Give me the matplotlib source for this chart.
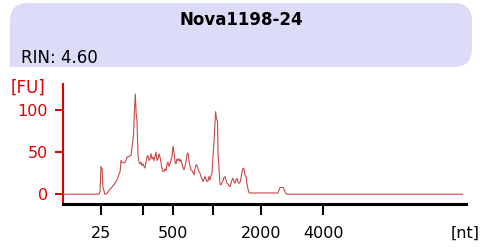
import matplotlib
matplotlib.use('Agg')
import matplotlib.pyplot as plt
from matplotlib.patches import FancyBboxPatch, Rectangle
import numpy as np

# electropherogram trace: migration position (axis units) and fluorescence [FU]
pos = [63, 99, 100, 101, 102, 103, 105, 107, 110, 113, 115, 117, 119, 120, 121, 122,
       124, 125, 126, 127, 129, 131, 132.5, 133.5, 134.5, 135.3, 136.2, 137, 138, 139,
       140, 141, 142, 143, 144, 145, 146, 147, 148, 149, 150, 151, 152, 153, 154, 155,
       156, 157, 158, 159, 160, 161, 162, 163, 164, 165, 166, 167, 168, 169, 170, 171,
       172, 173, 174, 175, 176, 177, 178, 179, 180, 181, 182, 183, 184, 185, 186, 187,
       188, 189, 190, 191, 192, 193, 194, 195, 196, 197, 198, 199, 200, 201, 202, 203,
       204, 205, 206, 207, 208, 209, 210, 211, 212, 213, 214, 215, 215.6, 216.5, 217.5,
       218, 219, 220, 221, 222, 223, 224, 225, 226, 227, 228, 229, 230, 231, 232, 233,
       234, 235, 236, 237, 238, 239, 240, 241, 242, 243, 244, 245, 246, 247, 248, 249,
       250, 278, 279, 280, 282, 283, 284, 285, 286, 287, 462.7]
fu = [0, 0, 3, 33, 30, 8, 0, 1, 6, 10, 13, 17, 24, 26, 40, 38,
      37, 38, 40, 44, 45, 46, 60, 70, 100, 119, 95, 88, 45, 38,
      36, 38, 34, 36, 33, 31, 38, 44, 46, 40, 42, 48, 42, 44, 40, 45,
      50, 40, 42, 48, 44, 38, 30, 27, 27, 30, 28, 36, 38, 33, 36, 40,
      45, 57, 50, 38, 36, 42, 40, 42, 39, 41, 36, 32, 29, 33, 38, 47,
      49, 40, 33, 29, 28, 26, 23, 30, 35, 34, 30, 27, 25, 21, 18, 15,
      18, 21, 18, 15, 16, 21, 17, 22, 25, 45, 62, 85, 98, 90, 86,
      50, 32, 12, 11, 14, 16, 20, 21, 17, 13, 12, 10, 9, 13, 17, 19,
      15, 13, 17, 19, 14, 13, 14, 19, 27, 31, 30, 23, 21, 12, 6, 2,
      1.5, 1.5, 5, 8, 8, 8, 6, 3, 1, 0, 0]

tick_pos = [101, 143.3, 172.7, 213.3, 261, 323.3]
tick_labels = ['25', '', '500', '', '2000', '4000']
y_ticks = [0, 50, 100]

title = 'Nova1198-24'
rin_text = 'RIN: 4.60'

W, H = 494, 248
fig = plt.figure(figsize=(W / 100, H / 100), dpi=100)

# background layer in pixel coords for the header box and labels
bg = fig.add_axes([0, 0, 1, 1])
bg.set_xlim(0, W)
bg.set_ylim(H, 0)
bg.axis('off')
box = FancyBboxPatch((27, 20), 428, 30, boxstyle='round,pad=17,rounding_size=18',
                     facecolor='#dcdcf8', edgecolor='none')
bg.add_patch(box)
# bottom-left corner of the header is square
bg.add_patch(Rectangle((10, 40), 30, 27, facecolor='#dcdcf8', edgecolor='none'))
bg.text(241, 20, title, ha='center', va='center', fontsize=12, fontweight='bold')
bg.text(21, 58, rin_text, ha='left', va='center', fontsize=12)
bg.text(28, 88, '[FU]', ha='center', va='center', fontsize=12, color='#e00000')
bg.text(465, 233, '[nt]', ha='center', va='center', fontsize=11.5)

# main trace axes
ax = fig.add_axes([63 / W, (H - 204) / H, (466 - 63) / W, 120 / H])
ax.set_facecolor('none')
ax.plot(pos, fu, color='#c84848', lw=0.8)
ax.set_xlim(63, 466)
ax.set_ylim(-11.6, 130.8)

for s in ['top', 'right']:
    ax.spines[s].set_visible(False)
ax.spines['left'].set_color('#e00000')
ax.spines['left'].set_linewidth(1.5)
ax.spines['bottom'].set_color('black')
ax.spines['bottom'].set_linewidth(2.2)

ax.set_yticks(y_ticks)
ax.set_yticklabels([str(v) for v in y_ticks])
ax.tick_params(axis='y', colors='#e00000', length=6, width=1.5, pad=5, labelsize=11.5)
ax.set_xticks(tick_pos)
ax.set_xticklabels(tick_labels)
ax.tick_params(axis='x', colors='black', length=8, width=1.5, pad=8, labelsize=11.5)

fig.savefig('out.png', dpi=100)
